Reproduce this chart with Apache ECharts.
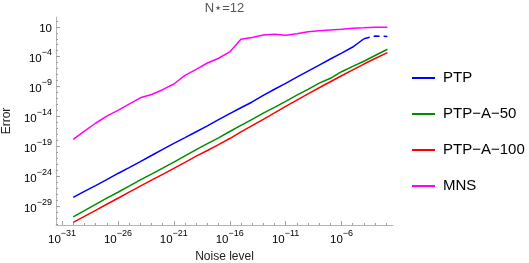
<!DOCTYPE html>
<html>
<head>
<meta charset="utf-8">
<script src="https://cdn.jsdelivr.net/npm/echarts@6/dist/echarts.min.js"></script>
<style>html,body{margin:0;padding:0;background:#fff}#c{width:529px;height:263px}</style>
</head>
<body>
<div id="c"></div>
<script>
// log10 of noise level (x)
const noiseExp = [-30,-29,-28,-27,-26,-25,-24,-23,-22,-21,-20,-19,-18,-17,-16,-15,-14,-13,-12,-11,-10,-9,-8,-7,-6,-5,-4,-3,-1.9];
// log10 of error (y)
const ptpExp = [-27.47,-26.48,-25.5,-24.5,-23.48,-22.5,-21.5,-20.48,-19.45,-18.45,-17.5,-16.52,-15.55,-14.5,-13.5,-12.52,-11.55,-10.45,-9.43,-8.45,-7.4,-6.4,-5.4,-4.38,-3.4,-2.38,-1.0,null,null];
const ptpDashedExp = [null,null,null,null,null,null,null,null,null,null,null,null,null,null,null,null,null,null,null,null,null,null,null,null,null,null,-1.0,-0.55,-0.62];
const ptpA50Exp = [-30.72,-29.68,-28.65,-27.6,-26.62,-25.6,-24.55,-23.6,-22.6,-21.6,-20.55,-19.5,-18.5,-17.55,-16.48,-15.45,-14.45,-13.4,-12.45,-11.45,-10.42,-9.45,-8.4,-7.6,-6.5,-5.6,-4.75,-3.8,-2.75];
const ptpA100Exp = [-31.65,-30.65,-29.63,-28.62,-27.62,-26.6,-25.6,-24.6,-23.62,-22.62,-21.62,-20.6,-19.65,-18.68,-17.65,-16.55,-15.5,-14.45,-13.38,-12.3,-11.25,-10.2,-9.18,-8.17,-7.18,-6.2,-5.22,-4.3,-3.32];
const mnsExp = [-17.8,-16.4,-15.1,-13.9,-12.95,-11.9,-10.85,-10.3,-9.5,-8.55,-7.1,-6.1,-5.05,-4.25,-3.2,-1.1,-0.8,-0.36,-0.25,-0.4,-0.17,0.15,0.35,0.48,0.6,0.75,0.83,0.92,0.93];
const xMajorTicks = [-31,-26,-21,-16,-11,-6];
const xMinorTicks = [-31,-30,-29,-28,-27,-26,-25,-24,-23,-22,-21,-20,-19,-18,-17,-16,-15,-14,-13,-12,-11,-10,-9,-8,-7,-6,-5,-4,-3,-2];
const yMajorTicks = [-29,-24,-19,-14,-9,-4,1];
const yMinorTicks = [-32,-31,-30,-29,-28,-27,-26,-25,-24,-23,-22,-21,-20,-19,-18,-17,-16,-15,-14,-13,-12,-11,-10,-9,-8,-7,-6,-5,-4,-3,-2,-1,0,1,2];
const seriesNames = ['PTP','PTP\u2212A\u221250','PTP\u2212A\u2212100','MNS'];
const colors = ['#0000ff','#008c00','#ff0000','#ff00ff'];

const FONT = '"Liberation Sans", Arial, sans-serif';
function pairs(ys){ return noiseExp.map((x,i)=>[x, ys[i]]); }
function powLabel(v){
  const n = Math.round(v);
  if (n === 1) return '{b|10}';
  return '{b|10}{s|' + (n < 0 ? '\u2212' + Math.abs(n) : n) + '}';
}
const rich = {
  b: {fontSize: 11.5, fontFamily: FONT, color: '#000', verticalAlign: 'bottom', padding: [5,0,0,0]},
  s: {fontSize: 9, fontFamily: FONT, color: '#000', verticalAlign: 'top'}
};
const chart = echarts.init(document.getElementById('c'), null, {renderer: 'canvas'});
const lineBase = {type: 'line', showSymbol: false, symbol: 'none', xAxisIndex: 0, yAxisIndex: 0, smooth: false, connectNulls: false, animation: false};
chart.setOption({
  animation: false,
  backgroundColor: '#fff',
  textStyle: {fontFamily: FONT},
  graphic: [{type: 'text', x: 224.5, y: 8.5, style: {text: 'N\u22C6=12', textAlign: 'center', textVerticalAlign: 'middle', fontSize: 13, fontFamily: FONT, fill: '#555'}}],
  grid: {left: 56, right: 136, top: 17, bottom: 38, containLabel: false, outerBoundsMode: 'none'},
  legend: {
    data: seriesNames, orient: 'vertical', left: 412, top: 69, padding: 0,
    itemWidth: 23, itemHeight: 2, itemGap: 18, icon: 'rect',
    textStyle: {fontSize: 15, lineHeight: 18, color: '#000', fontFamily: FONT, padding: [0,0,0,3]}
  },
  xAxis: [{
    type: 'value', min: -31.54, max: -1.4, position: 'bottom',
    name: 'Noise level', nameLocation: 'middle', nameGap: 25,
    nameTextStyle: {fontSize: 12, color: '#222', fontFamily: FONT},
    axisLine: {show: true, onZero: false, lineStyle: {color: '#b4b4b4', width: 1}},
    axisTick: {show: true, inside: true, length: 4, customValues: xMajorTicks, lineStyle: {color: '#a0a0a0'}},
    axisLabel: {customValues: xMajorTicks, formatter: powLabel, rich: rich, margin: 4},
    splitLine: {show: false}
  }, {
    type: 'value', min: -31.54, max: -1.4, position: 'bottom',
    axisLine: {show: false, onZero: false},
    axisTick: {show: true, inside: true, length: 2, customValues: xMinorTicks, lineStyle: {color: '#a0a0a0'}},
    axisLabel: {show: false}, splitLine: {show: false}
  }],
  yAxis: [{
    type: 'value', min: -32.08, max: 2.63, position: 'left',
    name: 'Error', nameLocation: 'middle', nameGap: 42, nameRotate: 90,
    nameTextStyle: {fontSize: 12, color: '#222', fontFamily: FONT},
    axisLine: {show: true, onZero: false, lineStyle: {color: '#b4b4b4', width: 1}},
    axisTick: {show: true, inside: true, length: 4, customValues: yMajorTicks, lineStyle: {color: '#a0a0a0'}},
    axisLabel: {customValues: yMajorTicks, formatter: powLabel, rich: rich, margin: 4},
    splitLine: {show: false}
  }, {
    type: 'value', min: -32.08, max: 2.63, position: 'left',
    axisLine: {show: false, onZero: false},
    axisTick: {show: true, inside: true, length: 2, customValues: yMinorTicks, lineStyle: {color: '#a0a0a0'}},
    axisLabel: {show: false}, splitLine: {show: false}
  }],
  series: [
    Object.assign({}, lineBase, {name: seriesNames[3], data: pairs(mnsExp), color: colors[3], lineStyle: {width: 1.5, color: colors[3]}}),
    Object.assign({}, lineBase, {name: seriesNames[0], data: pairs(ptpExp), color: colors[0], lineStyle: {width: 1.5, color: colors[0]}}),
    Object.assign({}, lineBase, {name: 'PTP (dashed)', data: pairs(ptpDashedExp), color: colors[0], lineStyle: {width: 1.5, color: colors[0], type: [6,4]}}),
    Object.assign({}, lineBase, {name: seriesNames[1], data: pairs(ptpA50Exp), color: colors[1], lineStyle: {width: 1.5, color: colors[1]}}),
    Object.assign({}, lineBase, {name: seriesNames[2], data: pairs(ptpA100Exp), color: colors[2], lineStyle: {width: 1.5, color: colors[2]}})
  ]
});
</script>
</body>
</html>
